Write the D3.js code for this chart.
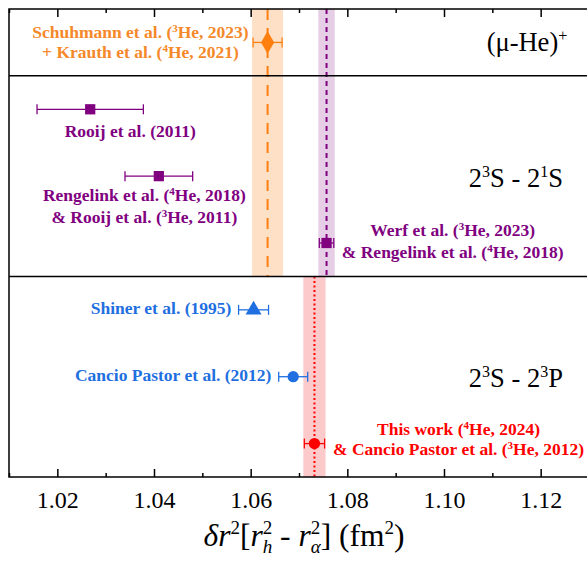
<!DOCTYPE html>
<html>
<head>
<meta charset="utf-8">
<script src="https://cdn.jsdelivr.net/npm/d3@7"></script>
<style>
  body { margin: 0; background: #fff; }
  svg text { font-family: "Liberation Serif", Tinos, "Times New Roman", Times, serif; }
</style>
</head>
<body>
<div id="chart"></div>
<script>
// data
var names = ["muHe", "rooij", "rengelink", "werf", "shiner", "cancio", "thiswork"];
var values = [1.0635, 1.0268, 1.0410, 1.0757, 1.0606, 1.0688, 1.0732];
var errors = [0.0030, 0.0110, 0.0070, 0.0015, 0.0031, 0.0030, 0.0021];
var rows = [1, 3, 5, 7, 9, 11, 13];
var shapes = ["diamond", "square", "square", "square", "triangle", "circle", "circle"];
var colors = ["#ff7f0e", "#800080", "#800080", "#800080", "#1f6fe0", "#1f6fe0", "#ff0000"];

// vertical reference bands (value, half width, row from, row to)
var bandValues = [1.0635, 1.0757, 1.0732];
var bandHalf = [0.0032, 0.0017, 0.0023];
var bandFrom = [0, 0, 8];
var bandTo = [8, 8, 14];
var bandFill = ["#fde0c6", "#e6cfe6", "#fccaca"];
var bandLine = ["#ff7f0e", "#800080", "#ff0000"];
var bandDash = ["11,8", "5,4", "2,2.5"];

var separators = [2, 8];
var majorTicks = [1.02, 1.04, 1.06, 1.08, 1.10, 1.12];
var minorTicks = [1.01, 1.03, 1.05, 1.07, 1.09, 1.11, 1.13];

var Width = 587, Height = 565;
var padL = 9, padT = 9, padB = 477, padR = 589;

var svg = d3.select("#chart").append("svg")
    .attr("width", Width)
    .attr("height", Height);

var x = d3.scaleLinear().domain([1.01, 1.13]).range([padL, padR]);
var y = d3.scaleLinear().domain([0, 14]).range([padT, padB]);

// bands
for (var i = 0; i < bandValues.length; i++) {
    svg.append("rect")
        .attr("x", x(bandValues[i] - bandHalf[i]))
        .attr("y", y(bandFrom[i]))
        .attr("width", x(bandValues[i] + bandHalf[i]) - x(bandValues[i] - bandHalf[i]))
        .attr("height", y(bandTo[i]) - y(bandFrom[i]))
        .attr("fill", bandFill[i]);
    svg.append("line")
        .attr("x1", x(bandValues[i])).attr("x2", x(bandValues[i]))
        .attr("y1", y(bandFrom[i])).attr("y2", y(bandTo[i]))
        .attr("stroke", bandLine[i])
        .attr("stroke-width", 2)
        .attr("stroke-dasharray", bandDash[i]);
}

// frame + separators
svg.append("rect")
    .attr("x", padL).attr("y", padT)
    .attr("width", padR - padL).attr("height", padB - padT)
    .attr("fill", "none").attr("stroke", "#000").attr("stroke-width", 1.5);
separators.forEach(function(s) {
    svg.append("line")
        .attr("x1", padL).attr("x2", padR)
        .attr("y1", y(s)).attr("y2", y(s))
        .attr("stroke", "#000").attr("stroke-width", 1.5);
});

// axes
var xAxis = d3.axisBottom(x).tickValues(majorTicks).tickSize(-8)
    .tickFormat(d3.format(".2f")).tickPadding(14);
var gx = svg.append("g").attr("transform", "translate(0," + padB + ")").call(xAxis);
gx.select(".domain").remove();
gx.selectAll("line").attr("stroke-width", 1.5);
gx.selectAll("text").style("font-size", "24px").attr("fill", "#000");

var gxm = svg.append("g").attr("transform", "translate(0," + padB + ")")
    .call(d3.axisBottom(x).tickValues(minorTicks).tickSize(-4).tickFormat(""));
gxm.select(".domain").remove();
gxm.selectAll("line").attr("stroke-width", 1.5);

var gt = svg.append("g").attr("transform", "translate(0," + padT + ")")
    .call(d3.axisTop(x).tickValues(majorTicks).tickSize(-8).tickFormat(""));
gt.select(".domain").remove();
gt.selectAll("line").attr("stroke-width", 1.5);
var gtm = svg.append("g").attr("transform", "translate(0," + padT + ")")
    .call(d3.axisTop(x).tickValues(minorTicks).tickSize(-4).tickFormat(""));
gtm.select(".domain").remove();
gtm.selectAll("line").attr("stroke-width", 1.5);

// error bars and markers
var sym = {
    diamond: d3.symbolDiamond,
    square: d3.symbolSquare,
    triangle: d3.symbolTriangle,
    circle: d3.symbolCircle
};
var symSize = { diamond: 150, square: 105, triangle: 110, circle: 100 };

for (var j = 0; j < values.length; j++) {
    var cy = y(rows[j]);
    var x0 = x(values[j] - errors[j]), x1 = x(values[j] + errors[j]);
    var g = svg.append("g").attr("stroke", colors[j]).attr("stroke-width", 1.3);
    g.append("line").attr("x1", x0).attr("x2", x1).attr("y1", cy).attr("y2", cy);
    g.append("line").attr("x1", x0).attr("x2", x0).attr("y1", cy - 5).attr("y2", cy + 5);
    g.append("line").attr("x1", x1).attr("x2", x1).attr("y1", cy - 5).attr("y2", cy + 5);
    svg.append("path")
        .attr("d", d3.symbol().type(sym[shapes[j]]).size(symSize[shapes[j]])())
        .attr("transform", "translate(" + x(values[j]) + "," + cy + ")")
        .attr("fill", colors[j]);
}

// writes pieces into a text; a piece in [..] is a superscript
function writeParts(t, parts, supSize, lift) {
    var raised = false;
    parts.forEach(function(p) {
        if (typeof p === "string") {
            t.append("tspan").attr("dy", raised ? lift : 0).text(p);
            raised = false;
        } else {
            t.append("tspan").attr("dy", raised ? 0 : -lift)
                .style("font-size", supSize + "px").text(p[0]);
            raised = true;
        }
    });
}

// labels: x in data units, y in rows
var labels = [
    { lines: [["Schuhmann et al. (", ["3"], "He, 2023)"], ["+ Krauth et al. (", ["4"], "He, 2021)"]],
      vx: 1.0372, ry: [0.69, 1.29], anchor: "middle", color: "#f5892a" },
    { lines: [["Rooij et al. (2011)"]], vx: 1.0351, ry: [3.64], anchor: "middle", color: "#800080" },
    { lines: [["Rengelink et al. (", ["4"], "He, 2018)"], ["& Rooij et al. (", ["3"], "He, 2011)"]],
      vx: 1.0380, ry: [5.56, 6.21], anchor: "middle", color: "#800080" },
    { lines: [["Werf et al. (", ["3"], "He, 2023)"], ["& Rengelink et al. (", ["4"], "He, 2018)"]],
      vx: 1.1018, ry: [6.60, 7.27], anchor: "middle", color: "#800080" },
    { lines: [["Shiner et al. (1995)"]], vx: 1.0560, ry: [8.94], anchor: "end", color: "#1f6fe0" },
    { lines: [["Cancio Pastor et al. (2012)"]], vx: 1.0643, ry: [10.95], anchor: "end", color: "#1f6fe0" },
    { lines: [["This work (", ["4"], "He, 2024)"], ["& Cancio Pastor et al. (", ["3"], "He, 2012)"]],
      vx: 1.1030, ry: [12.56, 13.16], anchor: "middle", color: "#ff0000" }
];

labels.forEach(function(L) {
    L.lines.forEach(function(parts, k) {
        var t = svg.append("text")
            .attr("x", x(L.vx)).attr("y", y(L.ry[k]) + 6)
            .attr("text-anchor", L.anchor)
            .attr("fill", L.color)
            .style("font-size", "17.5px")
            .style("font-weight", "bold");
        writeParts(t, parts, 11, 6);
    });
});

// panel titles
function panelTitle(vx, ry, parts) {
    var t = svg.append("text")
        .attr("x", x(vx)).attr("y", y(ry) + 9)
        .attr("text-anchor", "end").attr("fill", "#000")
        .style("font-size", "26.5px");
    writeParts(t, parts, 16, 10);
}
panelTitle(1.1255, 1.0, ["(\u03bc-He)", ["+"]]);
panelTitle(1.1246, 5.06, ["2", ["3"], "S - 2", ["1"], "S"]);
panelTitle(1.1246, 11.04, ["2", ["3"], "S - 2", ["3"], "P"]);

// x axis title
var xt = svg.append("text")
    .attr("x", 304).attr("y", 546)
    .attr("text-anchor", "middle").attr("fill", "#000")
    .style("font-size", "31.5px");
xt.append("tspan").style("font-style", "italic").text("\u03b4r");
xt.append("tspan").attr("dy", -12).style("font-size", "19px").text("2");
xt.append("tspan").attr("dy", 12).text("[");
xt.append("tspan").style("font-style", "italic").text("r");
xt.append("tspan").attr("dy", -12).style("font-size", "19px").text("2");
xt.append("tspan").attr("dy", 19).attr("dx", -9.5).style("font-size", "19px").style("font-style", "italic").text("h");
xt.append("tspan").attr("dy", -7).text(" - ");
xt.append("tspan").style("font-style", "italic").text("r");
xt.append("tspan").attr("dy", -12).style("font-size", "19px").text("2");
xt.append("tspan").attr("dy", 19).attr("dx", -9.5).style("font-size", "19px").style("font-style", "italic").text("\u03b1");
xt.append("tspan").attr("dy", -7).text("] (fm");
xt.append("tspan").attr("dy", -12).style("font-size", "19px").text("2");
xt.append("tspan").attr("dy", 12).text(")");
</script>
</body>
</html>
